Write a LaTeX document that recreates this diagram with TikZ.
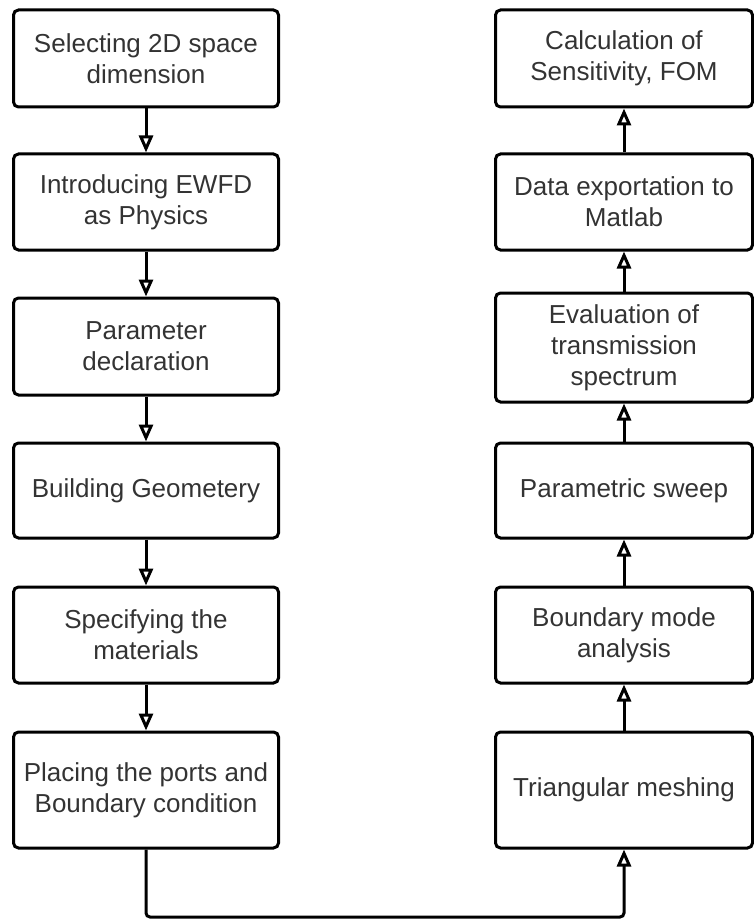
\documentclass[tikz,border=0pt]{standalone}
\usepackage{fontspec}
\setmainfont{Liberation Sans}
\usetikzlibrary{positioning,arrows.meta}

\begin{document}
\begin{tikzpicture}[x=1pt, y=-1pt, >={Triangle[open, length=17pt, width=14pt]},
  every node/.style={font=\fontsize{26}{31}\selectfont, text=black!80},
  stepbox/.style={draw=black, line width=3pt, rounded corners=5pt, align=center, inner sep=2pt},
  flow/.style={draw=black, line width=3pt}]
\useasboundingbox (0,0) rectangle (754,920);
% left column, going down
\node[stepbox, minimum width=265pt, minimum height=97pt] (sel) at (146,58.5) {Selecting 2D space\\dimension};
\node[stepbox, minimum width=265pt, minimum height=96pt] (ewfd) at (146,202) {Introducing EWFD\\as Physics};
\node[stepbox, minimum width=265pt, minimum height=97pt] (param) at (146,346.5) {Parameter\\declaration};
\node[stepbox, minimum width=265pt, minimum height=95pt] (geom) at (146,490.5) {Building Geometery};
\node[stepbox, minimum width=265pt, minimum height=96pt] (mat) at (146,635) {Specifying the\\materials};
\node[stepbox, minimum width=265pt, minimum height=116pt] (ports) at (146,790) {Placing the ports and\\Boundary condition};
% right column, going up
\node[stepbox, minimum width=257pt, minimum height=116pt] (mesh) at (624,790) {Triangular meshing};
\node[stepbox, minimum width=257pt, minimum height=96pt] (bmode) at (624,635) {Boundary mode\\analysis};
\node[stepbox, minimum width=257pt, minimum height=95pt] (sweep) at (624,490.5) {Parametric sweep};
\node[stepbox, minimum width=257pt, minimum height=109pt] (spec) at (624,347.5) {Evaluation of\\transmission\\spectrum};
\node[stepbox, minimum width=257pt, minimum height=96pt] (export) at (624,202) {Data exportation to\\Matlab};
\node[stepbox, minimum width=257pt, minimum height=97pt] (fom) at (624,58.5) {Calculation of\\Sensitivity, FOM};
\coordinate (base) at (386,917);
\draw[flow, ->] (sel) -- (ewfd);
\draw[flow, ->] (ewfd) -- (param);
\draw[flow, ->] (param) -- (geom);
\draw[flow, ->] (geom) -- (mat);
\draw[flow, ->] (mat) -- (ports);
\draw[flow, ->, rounded corners=4pt] (ports.south) |- (base) -| (mesh.south);
\draw[flow, ->] (mesh) -- (bmode);
\draw[flow, ->] (bmode) -- (sweep);
\draw[flow, ->] (sweep) -- (spec);
\draw[flow, ->] (spec) -- (export);
\draw[flow, ->] (export) -- (fom);
\end{tikzpicture}
\end{document}
